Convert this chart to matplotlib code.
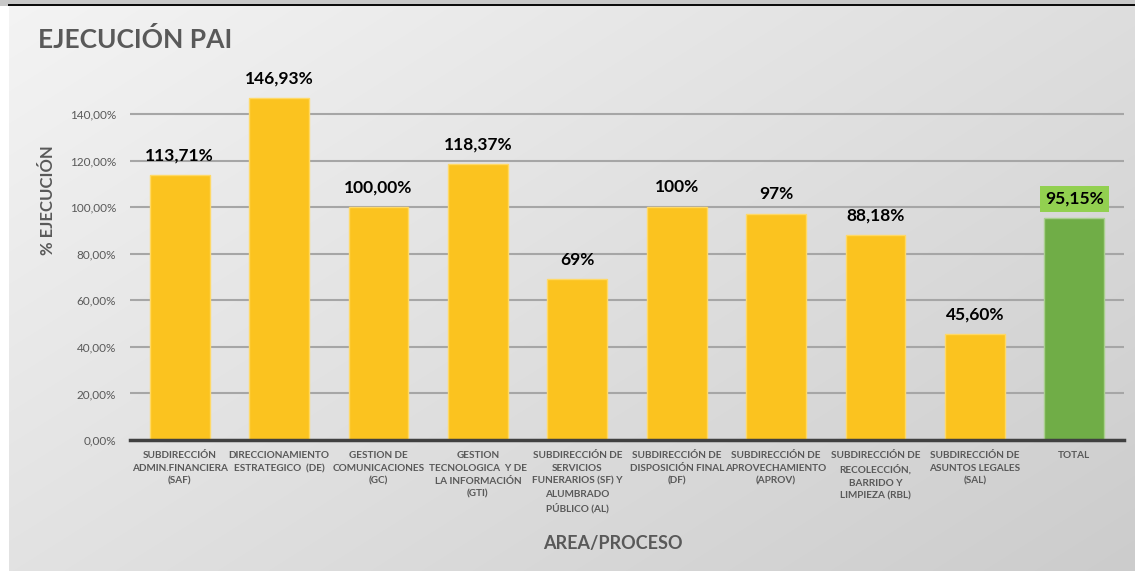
import numpy as np
import matplotlib.pyplot as plt

plt.rcParams['font.family'] = ['Lato', 'DejaVu Sans']

# datos
areas = ["SUBDIRECCIÓN\nADMIN.FINANCIERA\n(SAF)",
         "DIRECCIONAMIENTO\nESTRATEGICO  (DE)",
         "GESTION DE\nCOMUNICACIONES\n(GC)",
         "GESTION\nTECNOLOGICA  Y DE\nLA INFORMACIÓN\n(GTI)",
         "SUBDIRECCIÓN DE\nSERVICIOS\nFUNERARIOS (SF) Y\nALUMBRADO\nPÚBLICO (AL)",
         "SUBDIRECCIÓN DE\nDISPOSICIÓN FINAL\n(DF)",
         "SUBDIRECCIÓN DE\nAPROVECHAMIENTO\n(APROV)",
         "SUBDIRECCIÓN DE\nRECOLECCIÓN,\nBARRIDO Y\nLIMPIEZA (RBL)",
         "SUBDIRECCIÓN DE\nASUNTOS LEGALES\n(SAL)",
         "TOTAL"]
ejecucion = [113.71, 146.93, 100.00, 118.37, 69.0, 100.0, 97.0, 88.18, 45.60, 95.15]
etiquetas = ["113,71%", "146,93%", "100,00%", "118,37%", "69%", "100%", "97%",
             "88,18%", "45,60%", "95,15%"]
yticks = [0, 20, 40, 60, 80, 100, 120, 140]

W, H = 1135, 571
fig = plt.figure(figsize=(W / 100, H / 100), dpi=100)

# fondo con degradado
bg = fig.add_axes([0, 0, 1, 1])
yy, xx = np.mgrid[0:H, 0:W]
g = 244 - 40 * (0.75 * xx / W + 0.6 * yy / H) / 1.35
img = np.dstack([g, g, g]) / 255.0
img[:6, :, :] = 200 / 255
img[4:6, 8:, :] = 0.05
img[6:, :9, :] = 1.0
bg.imshow(img, aspect='auto', interpolation='bilinear')
bg.axis('off')

ymax = 157
x0, x1 = 130, 1124
ybase = 440
ytop = ybase - ymax * 326 / 140
ax = fig.add_axes([x0 / W, (H - ybase) / H, (x1 - x0) / W, (ybase - ytop) / H])
ax.patch.set_alpha(0)

x = np.arange(len(areas))
colores = ['#fbc31f'] * (len(areas) - 1) + ['#70ad47']
bordes = ['#ffd966'] * (len(areas) - 1) + ['#a9d08e']
ax.bar(x, ejecucion, width=0.6, color=colores, edgecolor=bordes, linewidth=1, zorder=3)

for i, (v, t) in enumerate(zip(ejecucion, etiquetas)):
    if i == len(areas) - 1:
        ax.text(i, v + 5, t, ha='center', va='bottom', fontsize=12.5, fontweight='bold',
                color='black', zorder=4,
                bbox=dict(boxstyle='square,pad=0.3', fc='#92d050', ec='none'))
    else:
        ax.text(i, v + 5, t, ha='center', va='bottom', fontsize=12.5, fontweight='bold',
                color='black', zorder=4)

ax.set_xlim(-0.5, len(areas) - 0.5)
ax.set_ylim(0, ymax)
ax.set_yticks(yticks)
ax.set_yticklabels([f"{v:.2f}".replace('.', ',') + "%" for v in yticks],
                   fontsize=8.5, color='#595959')
ax.yaxis.grid(True, color='#a6a6a6', linewidth=1.5, zorder=0)
ax.set_xticks(x)
ax.set_xticklabels(areas, fontsize=7.2, fontweight='bold', color='#595959', linespacing=1.55)
ax.tick_params(length=0, pad=8)
ax.tick_params(axis='y', pad=10)
for s in ['top', 'right', 'left']:
    ax.spines[s].set_visible(False)
ax.spines['bottom'].set_color('#404040')
ax.spines['bottom'].set_linewidth(2.5)
ax.spines['bottom'].set_zorder(5)

fig.text(38 / W, 1 - 40 / H, "EJECUCIÓN PAI", fontsize=19, fontweight='bold',
         color='#595959', va='center', ha='left')
fig.text(48 / W, 1 - 200 / H, "% EJECUCIÓN", fontsize=12, fontweight='bold',
         color='#595959', rotation=90, va='center', ha='center')
fig.text(613 / W, 1 - 544 / H, "AREA/PROCESO", fontsize=13, fontweight='bold',
         color='#595959', va='center', ha='center')

fig.savefig('out.png', dpi=100)
